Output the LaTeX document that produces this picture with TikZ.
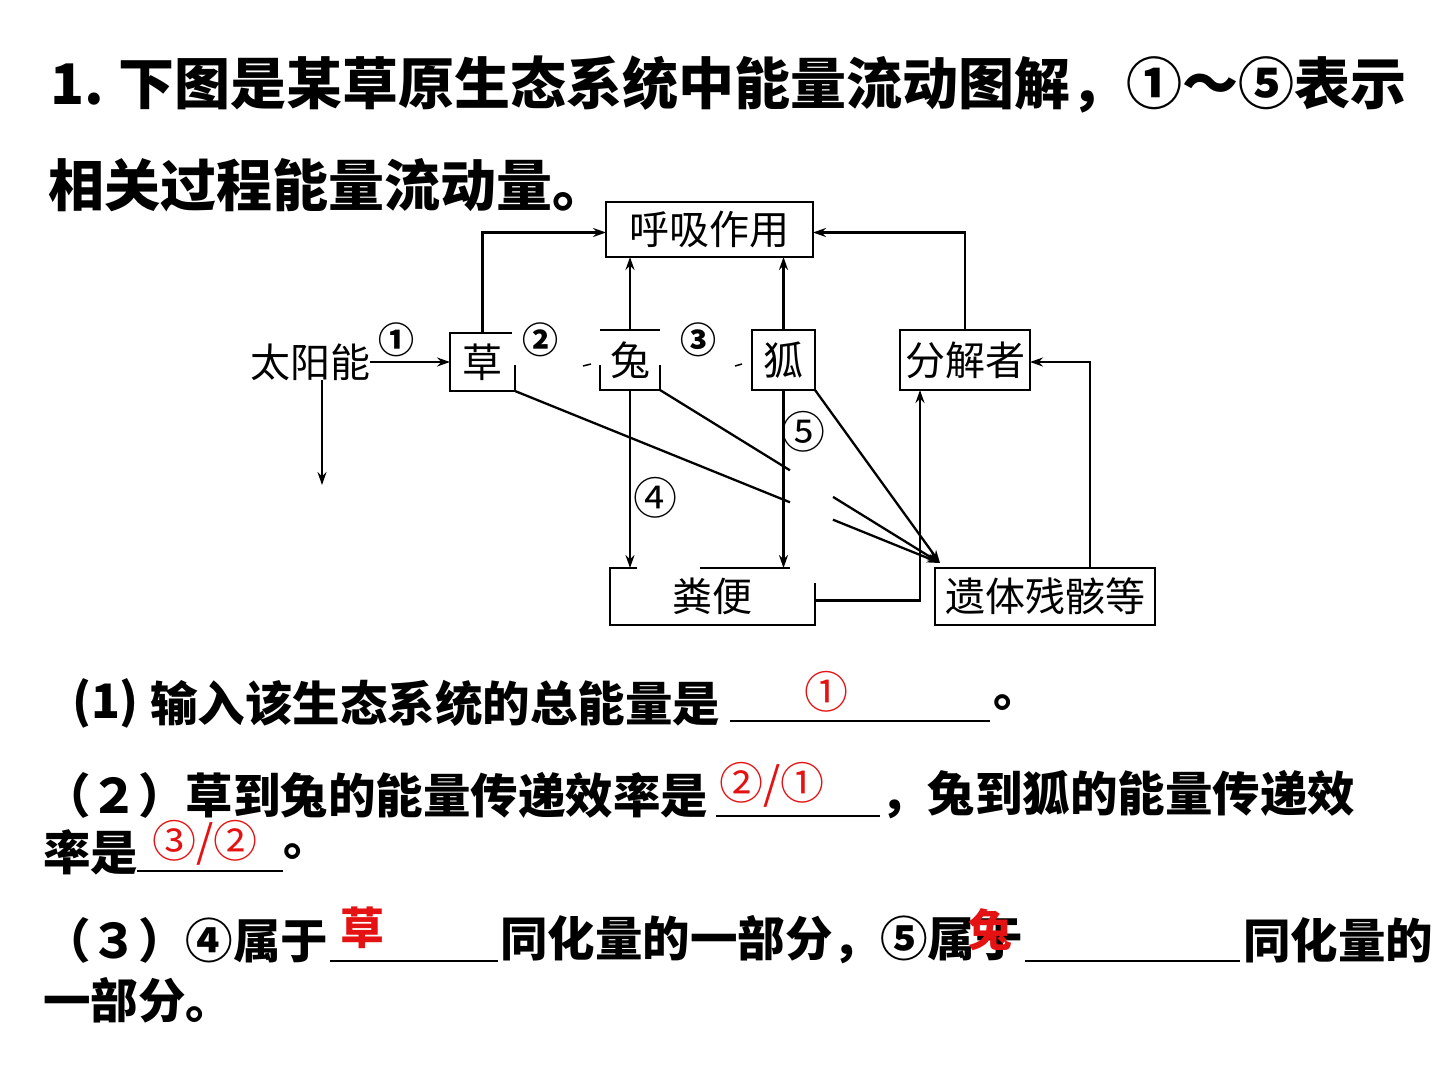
\documentclass[tikz,border=0pt]{standalone}
\usepackage{fontspec}
\newfontfamily\cjk{Noto Sans CJK SC}
\usetikzlibrary{arrows.meta,calc}
\definecolor{ansred}{RGB}{228,18,18}
\begin{document}
\begin{tikzpicture}[x=1pt,y=-1pt,
  every node/.style={inner sep=0pt,outer sep=0pt},
  box/.style={draw,line width=2.8pt,font=\cjk\fontsize{40}{40}\selectfont},
  openbox/.style={font=\cjk\fontsize{40}{40}\selectfont},
  lbl/.style={font=\cjk\fontsize{40}{40}\selectfont},
  boldnum/.style={font=\cjk\bfseries\fontsize{36}{36}\selectfont},
  thinnum/.style={font=\cjk\fontsize{44}{44}\selectfont},
  conn/.style={line width=2.3pt},
  arr/.style={conn,-{Stealth[length=13pt,width=9pt]}},
  border/.style={line width=2.8pt},
  title/.style={font=\cjk\bfseries\fontsize{56}{56}\selectfont,anchor=west},
  qtext/.style={font=\cjk\bfseries\fontsize{47.5}{47.5}\selectfont,anchor=west},
  ans/.style={text=ansred,font=\cjk\fontsize{44}{44}\selectfont},
  ansb/.style={text=ansred,font=\cjk\bfseries\fontsize{44}{44}\selectfont},
  blank/.style={line width=1.8pt}]
\useasboundingbox (0,0) rectangle (1440,1080);
\fill[white] (0,0) rectangle (1440,1080);

% ---- title ----
\node[title] (t1a) at (50,85) {1.};
\node[title] (t1b) at (118,85) {下图是某草原生态系统中能量流动图解，①～⑤表示};
\node[title] (t2) at (48,185) {相关过程能量流动量。};

% ---- diagram nodes ----
\node[box,minimum width=207pt,minimum height=55pt] (resp) at (709.5,229.5) {呼吸作用};
\node[lbl] (sun) at (310,362) {太阳能};
\node[openbox,minimum width=65pt,minimum height=58pt] (grass) at (482.5,362) {草};
\node[openbox,minimum width=60pt,minimum height=60pt] (rabbit) at (630,360) {兔};
\node[box,minimum width=63pt,minimum height=60pt] (fox) at (783.5,360) {狐};
\node[box,minimum width=130pt,minimum height=60pt] (decomp) at (965,360) {分解者};
\node[openbox,minimum width=205pt,minimum height=57pt] (feces) at (712.5,596.5) {粪便};
\node[box,minimum width=220pt,minimum height=57pt] (remains) at (1045,596.5) {遗体残骸等};

% partial borders
\draw[border] ($(grass.north west)+(62,0)$) -- (grass.north west) -- (grass.south west) -- (grass.south east) -- ++(0,-26);
\draw[border] (rabbit.north west) -- (rabbit.north east);
\draw[border] ($(rabbit.south west)+(0,-25)$) -- (rabbit.south west) -- (rabbit.south east) -- ++(0,-25);
\draw[border] ($(feces.north west)+(27,0)$) -- (feces.north west) -- (feces.south west) -- (feces.south east) -- ++(0,-42);
\draw[border] ($(feces.north west)+(90,0)$) -- ($(feces.north west)+(180,0)$);

% labels
\node[boldnum] (n1) at (396,340) {①};
\node[boldnum] (n2) at (540,340) {②};
\node[boldnum] (n3) at (698,340) {③};
\node[thinnum] (n4) at (655,498) {④};
\node[thinnum] (n5) at (803,432) {⑤};

% ---- connectors ----
\draw[arr] (sun.east) -- (grass.west);
\coordinate (sunend) at (322,485);
\draw[arr] (sun.south -| sunend) -- (sunend);
\draw[arr] (grass.north) |- ([yshift=-3pt]resp.west);
\draw[arr] (rabbit.north) -- (rabbit.north |- resp.south);
\draw[arr] (fox.north) -- (fox.north |- resp.south);
\draw[arr] (decomp.north) |- ([yshift=-3pt]resp.east);
\draw[arr] (rabbit.south) -- (rabbit.south |- feces.north);
\draw[arr] (fox.south) -- (fox.south |- feces.north);
\coordinate (fd) at ($(decomp.south west)+(20,0)$);
\draw[arr] ([yshift=-4pt]feces.east) -| (fd);
\coordinate (rd) at ($(remains.north east)+(-65,0)$);
\draw[arr] (rd) |- ([yshift=-2pt]decomp.east);

% diagonals into remains
\coordinate (hit) at ($(remains.north west)+(5,-5)$);
\draw[conn] (grass.south east) -- ($(grass.south east)!0.647!(hit)$);
\draw[arr] ($(grass.south east)!0.748!(hit)$) -- (hit);
\draw[conn] (rabbit.south east) -- ($(rabbit.south east)!0.464!(hit)$);
\draw[arr] ($(rabbit.south east)!0.618!(hit)$) -- (hit);
\draw[arr] (fox.south east) -- (hit);

% small remnant strokes
\draw[line width=1.5pt] (583,366) -- (591,364);
\draw[line width=1.5pt] (735,366) -- (742,364);

% ---- questions ----
\node[qtext] (q1a) at (72,703) {(1)};
\node[qtext] (q1b) at (150,703) {输入该生态系统的总能量是};
\coordinate (u1s) at (730,721); \coordinate (u1e) at (990,721);
\draw[blank] (u1s) -- (u1e);
\node[qtext] (q1c) at (993,703) {。};
\node[ans] (a1) at (826,692) {①};

\node[qtext] (q2a) at (43,795) {（２）草到兔的能量传递效率是};
\coordinate (u2s) at (716,816); \coordinate (u2e) at (880,816);
\draw[blank] (u2s) -- (u2e);
\node[ans] (a2) at (772,785) {②/①};
\node[qtext] (q2b) at (880,795) {，兔到狐的能量传递效};
\node[qtext] (q2c) at (43,852) {率是};
\coordinate (u3s) at (137,871); \coordinate (u3e) at (283,871);
\draw[blank] (u3s) -- (u3e);
\node[ans] (a3) at (205,843) {③/②};
\node[qtext] (q2d) at (283,852) {。};

\node[qtext] (q3a) at (43,940) {（３）④属于};
\coordinate (u4s) at (330,961); \coordinate (u4e) at (498,961);
\draw[blank] (u4s) -- (u4e);
\node[ansb] (a4) at (362,928) {草};
\node[qtext] (q3b) at (500,940) {同化量的一部分，⑤属于};
\coordinate (u5s) at (1025,961); \coordinate (u5e) at (1240,961);
\draw[blank] (u5s) -- (u5e);
\node[ansb] (a5) at (990,930) {兔};
\node[qtext] (q3c) at (1243,940) {同化量的};
\node[qtext] (q3d) at (43,1000) {一部分。};
\end{tikzpicture}
\end{document}
